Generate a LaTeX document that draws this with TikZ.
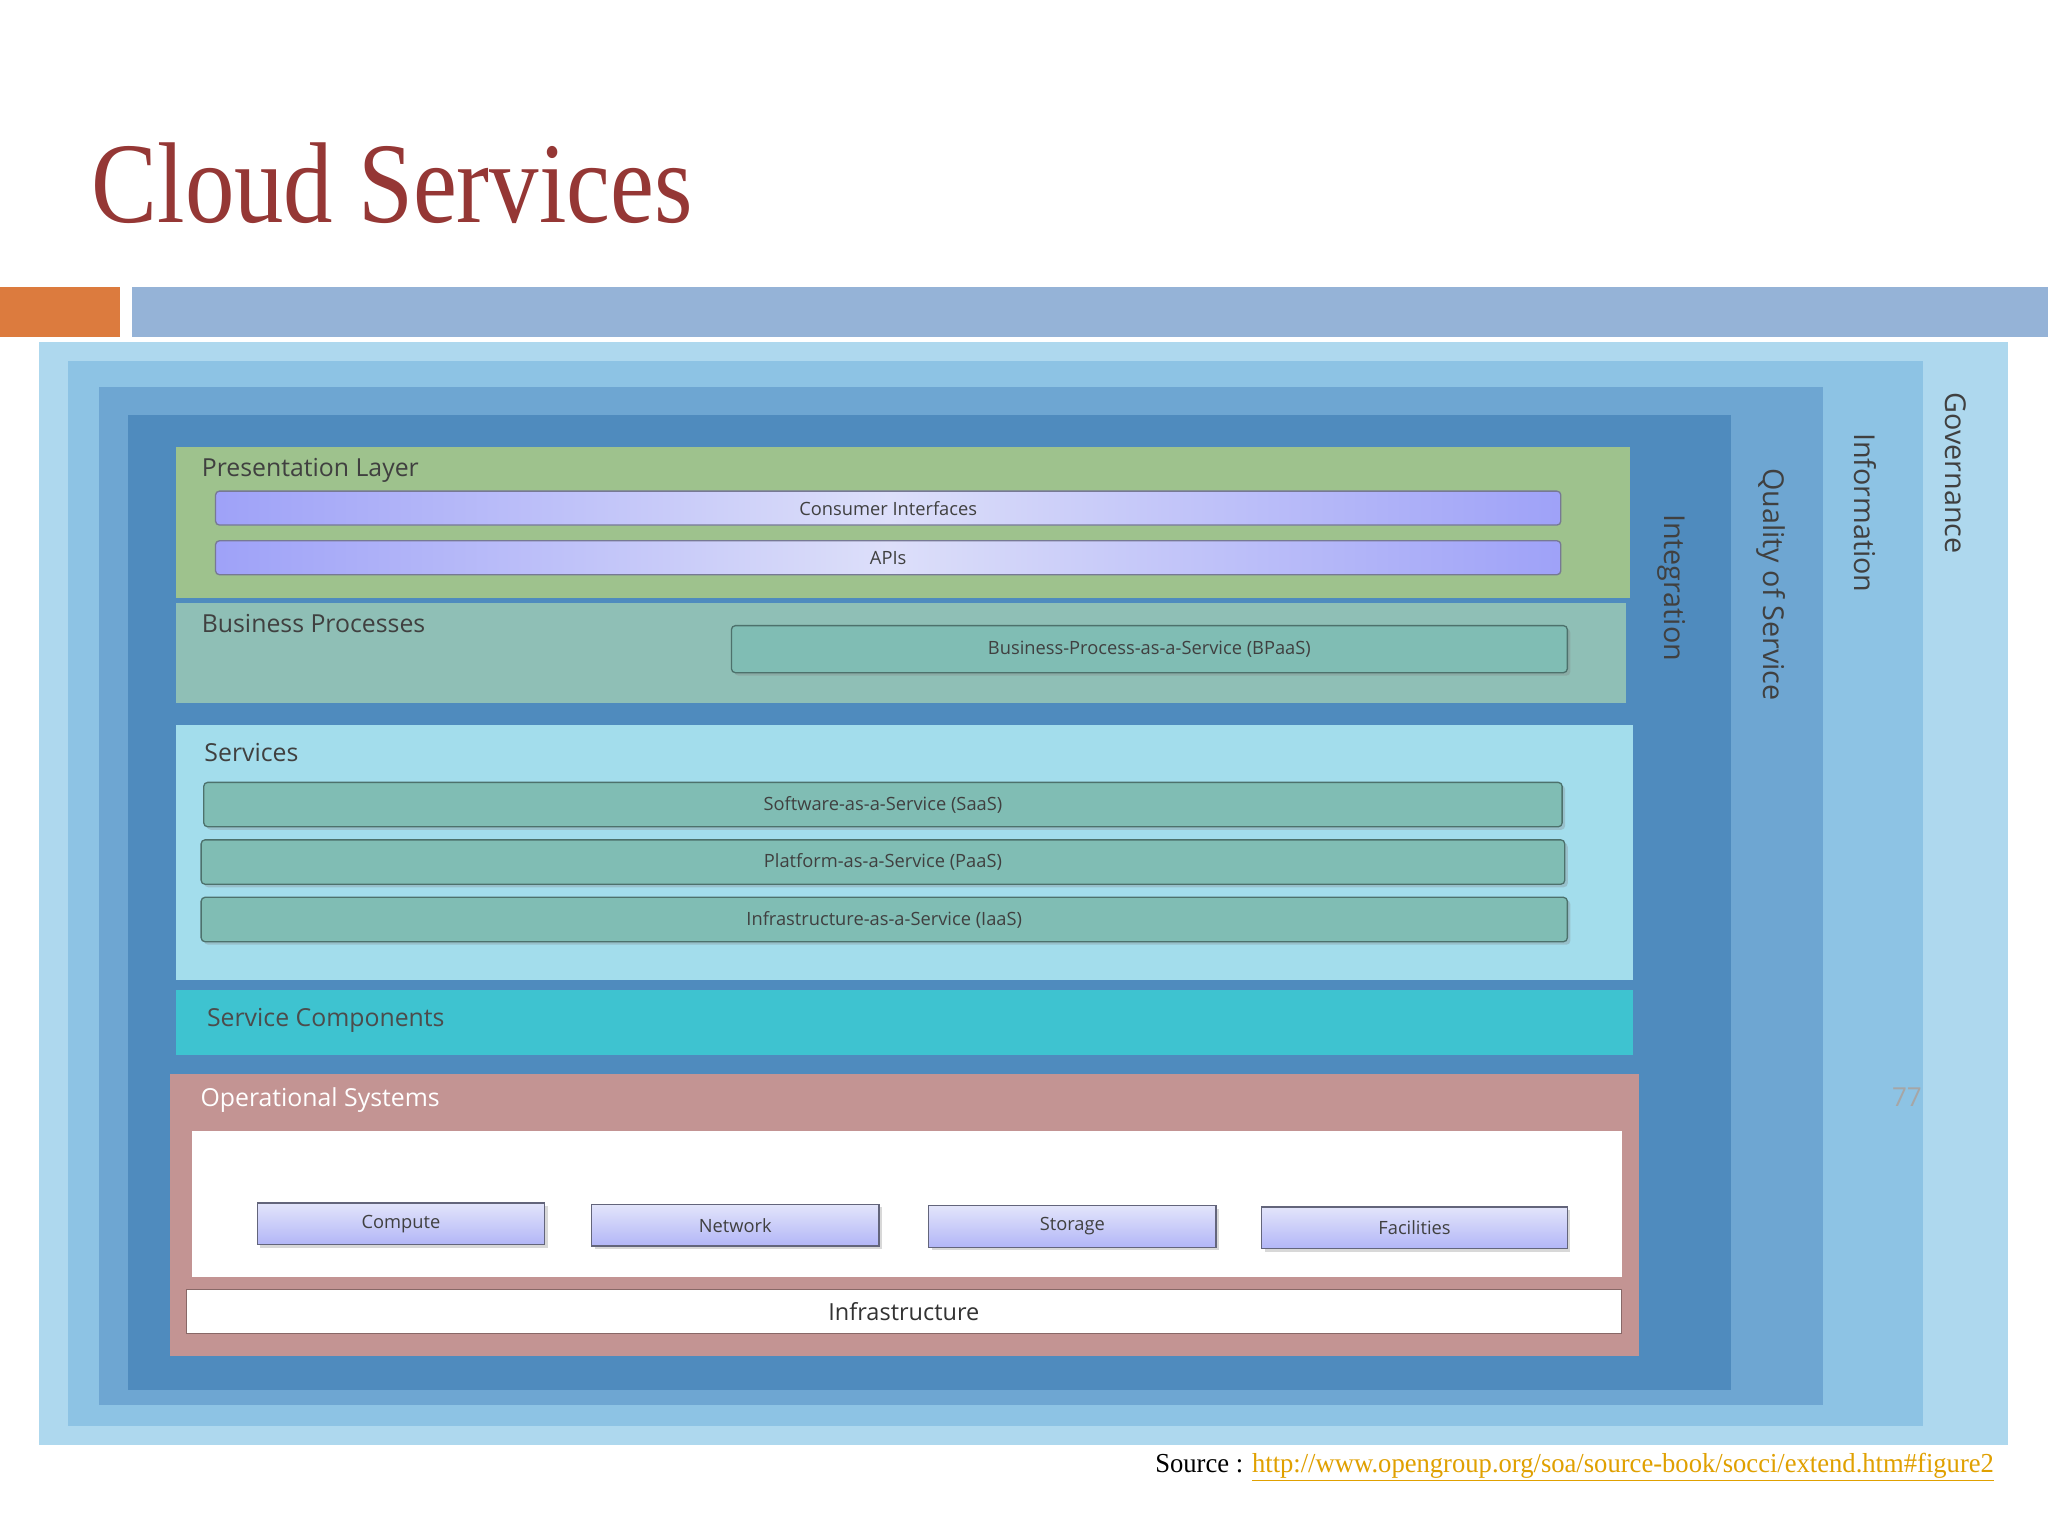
\documentclass[tikz,border=0pt]{standalone}
\usepackage{fontspec}
\setmainfont{Liberation Serif}
\newfontfamily\lbl{Open Sans}
\usetikzlibrary{shadows}
\definecolor{titlered}{HTML}{953735}
\definecolor{orangebar}{HTML}{DC7B3E}
\definecolor{bluebar}{HTML}{95B3D7}
\definecolor{gov}{HTML}{AED8EE}
\definecolor{info}{HTML}{8DC3E4}
\definecolor{qos}{HTML}{6EA6D2}
\definecolor{integ}{HTML}{4F8BBE}
\definecolor{pres}{HTML}{9EC28D}
\definecolor{bproc}{HTML}{8FBFB6}
\definecolor{serv}{HTML}{A3DDEC}
\definecolor{scomp}{HTML}{3EC3D0}
\definecolor{opsys}{HTML}{C39493}
\definecolor{tealbar}{HTML}{80BDB4}
\definecolor{lav}{HTML}{C6CAF6}
\definecolor{linkc}{HTML}{E0A000}
\tikzset{
  x=1pt,y=-1pt,
  lav bar/.style={draw=lav!60!black, line width=1pt, left color=lav!80!blue, right color=lav!80!blue, middle color=white!40!lav, rounded corners=3pt},
  teal bar/.style={draw=tealbar!60!black, line width=1pt, fill=tealbar, rounded corners=3pt, drop shadow={opacity=0.3}},
  btn/.style={draw=lav!50!black, line width=1pt, top color=white!50!lav, bottom color=lav!90!blue, drop shadow={opacity=0.3}},
  lbl/.style={font=\lbl\fontsize{19}{22}\selectfont, text=black!75},
  bartxt/.style={font=\lbl\fontsize{14}{16}\selectfont, text=black!75},
  vtxt/.style={font=\lbl\fontsize{22}{26}\selectfont, text=black!75, rotate=-90}
}
\begin{document}
\begin{tikzpicture}
\useasboundingbox (0,0) rectangle (1568,1176);
\fill[white] (0,0) rectangle (1568,1176);
\node[anchor=west, text=titlered, font=\fontsize{88}{90}\selectfont, xscale=0.86, inner sep=0pt] (title) at (70,140) {Cloud Services};
\fill[orangebar] (0,220) rectangle (92,258);
\fill[bluebar] (101,220) rectangle (1568,258);
% nested layers
\fill[gov] (30,262) rectangle (1537,1106);
\fill[info] (52,276) rectangle (1472,1092);
\fill[qos] (76,296) rectangle (1396,1076);
\fill[integ] (98,318) rectangle (1325,1064);
% presentation
\fill[pres] (135,342) rectangle (1248,458);
\node[lbl, anchor=west] (pl) at (151,360) {Presentation Layer};
\node[lav bar, minimum width=1030, minimum height=26, bartxt] (ci) at (680,389) {Consumer Interfaces};
\node[lav bar, minimum width=1030, minimum height=26, bartxt] (api) at (680,427) {APIs};
% business
\fill[bproc] (135,462) rectangle (1245,538);
\node[lbl, anchor=west] (bp) at (151,477) {Business Processes};
\node[teal bar, minimum width=640, minimum height=36, bartxt] (bpaas) at (880,497) {Business-Process-as-a-Service (BPaaS)};
% services
\fill[serv] (135,555) rectangle (1250,750);
\node[lbl, anchor=west] (sv) at (153,576) {Services};
\node[teal bar, minimum width=1040, minimum height=34, bartxt] (saas) at (676,616) {Software-as-a-Service (SaaS)};
\node[teal bar, minimum width=1044, minimum height=34, bartxt] (paas) at (676,660) {Platform-as-a-Service (PaaS)};
\node[teal bar, minimum width=1046, minimum height=34, bartxt] (iaas) at (677,704) {Infrastructure-as-a-Service (IaaS)};
% service components
\fill[scomp] (135,758) rectangle (1250,808);
\node[lbl, anchor=west, text=black!70] (sc) at (155,781) {Service Components};
% operational systems
\fill[opsys] (130,822) rectangle (1255,1038);
\node[lbl, anchor=west, text=white] (os) at (150,842) {Operational Systems};
\fill[white] (147,866) rectangle (1242,978);
\node[btn, minimum width=220, minimum height=32, bartxt] (cmp) at (307,937) {Compute};
\node[btn, minimum width=220, minimum height=32, bartxt] (net) at (563,938) {Network};
\node[btn, minimum width=220, minimum height=32, bartxt] (sto) at (821,939) {Storage};
\node[btn, minimum width=234, minimum height=32, bartxt] (fac) at (1083,940) {Facilities};
\node[draw=opsys!70!black, fill=white, minimum width=1099, minimum height=34, font=\lbl\fontsize{18}{20}\selectfont, text=black!80] (infra) at (692,1004) {Infrastructure};
% vertical labels
\node[vtxt, anchor=west] (ig) at (1280,390) {Integration};
\node[vtxt, anchor=west] (qs) at (1356,355) {Quality of Service};
\node[vtxt, anchor=west] (inf) at (1428,328) {Information};
\node[vtxt, anchor=west] (gv) at (1497,297) {Governance};
\node[font=\lbl\fontsize{20}{22}\selectfont, text=black!35] (pg) at (1460,840) {77};
\node[anchor=east, font=\fontsize{21}{24}\selectfont, xscale=0.97] (src) at (1530,1123) {Source : \textcolor{linkc}{\underline{http://www.opengroup.org/soa/source-book/socci/extend.htm\#figure2}}};
\end{tikzpicture}
\end{document}
